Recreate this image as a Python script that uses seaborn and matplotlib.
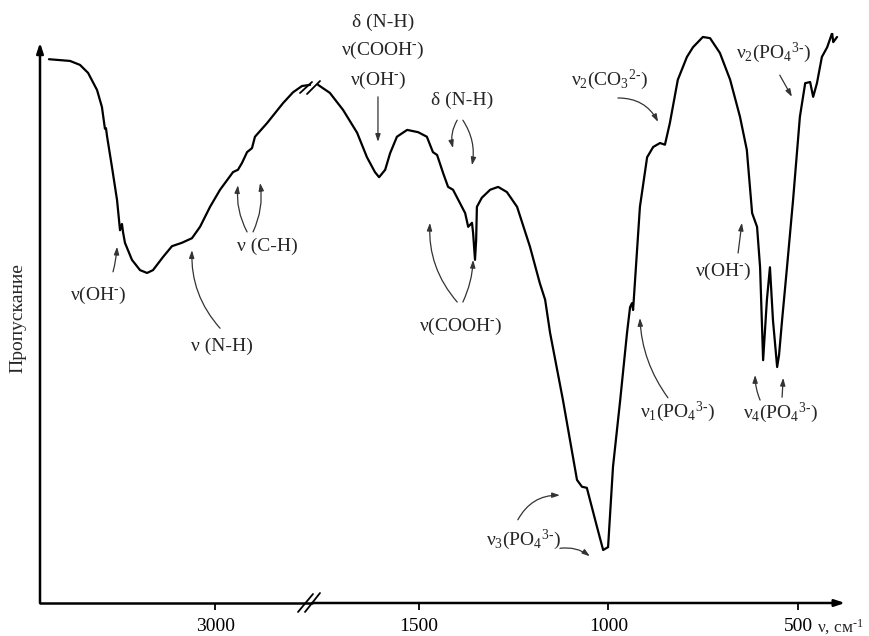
import matplotlib
matplotlib.use('Agg')
import matplotlib.pyplot as plt
import seaborn as sns
from matplotlib.lines import Line2D

# ИК-спектр: левая часть (высокие частоты) и правая часть после разрыва оси
wn_left = [3949, 3829, 3772, 3726, 3675, 3647, 3630, 3624, 3618, 3590, 3561, 3544,
           3533, 3527, 3516, 3476, 3430, 3390, 3356, 3299, 3248, 3191, 3134, 3088,
           3031, 2974, 2900, 2872, 2849, 2820, 2792, 2775, 2706, 2615, 2558, 2507, 2461]
t_left = [95.4, 95.1, 94.4, 93.0, 90.0, 87.0, 83.2, 83.3, 81.9, 76.5, 70.7, 65.4,
          66.5, 65.1, 63.2, 60.2, 58.4, 57.9, 58.4, 60.7, 62.6, 63.2, 64.0, 66.0,
          69.5, 72.5, 75.6, 76.0, 77.2, 79.1, 79.8, 81.8, 84.2, 87.7, 89.6, 90.7, 90.9]

wn_right = [1766, 1735, 1700, 1663, 1637, 1616, 1605, 1589, 1576, 1558, 1531, 1502,
            1479, 1463, 1452, 1436, 1423, 1410, 1392, 1378, 1370, 1360, 1357, 1352,
            1349, 1347, 1334, 1312, 1291, 1268, 1241, 1207, 1181, 1167, 1154, 1120,
            1083, 1070, 1057, 1030, 1014, 1001, 988, 969, 951, 943, 938, 935, 917,
            898, 882, 864, 851, 838, 817, 793, 777, 751, 732, 706, 679, 653, 635,
            621, 608, 600, 592, 587, 582, 574, 566, 555, 550, 542, 529, 513, 495,
            481, 468, 460, 450, 437, 423, 410, 407, 397]
t_right = [90.9, 89.5, 86.5, 82.5, 78.2, 75.6, 74.7, 76.0, 78.9, 81.8, 83.0, 82.6,
           81.8, 79.1, 78.6, 75.4, 73.0, 72.5, 70.2, 68.4, 66.0, 66.7, 64.9, 60.2,
           63.7, 69.5, 71.1, 72.5, 73.0, 72.1, 69.5, 62.5, 56.1, 53.2, 47.4, 35.6,
           21.6, 20.4, 20.2, 13.3, 9.3, 9.8, 23.9, 35.6, 47.4, 51.9, 52.6, 51.4, 69.5,
           78.2, 80.0, 80.7, 80.4, 84.2, 91.8, 95.8, 97.5, 99.3, 99.1, 96.5, 91.8, 85.3,
           79.5, 68.4, 66.0, 58.9, 42.6, 47.9, 53.2, 58.9, 49.6, 41.4, 43.5, 49.6, 58.9,
           70.7, 85.3, 91.2, 91.4, 88.8, 91.2, 95.8, 97.5, 100.0, 98.4, 99.3]

ticks_left = [3000]
ticks_right = [1500, 1000, 500]

sns.set_style('white')
plt.rcParams['font.family'] = ['Liberation Serif', 'DejaVu Serif']
plt.rcParams['mathtext.fontset'] = 'custom'
plt.rcParams['mathtext.rm'] = 'Liberation Serif'
plt.rcParams['mathtext.it'] = 'Liberation Serif:italic'

W, H = 870, 636


def fpx(x, y):
    return x / W, 1 - y / H


fig = plt.figure(figsize=(8.7, 6.36), dpi=100)
ax_l = fig.add_axes([40 / W, 33 / H, 272 / W, 570 / H])
ax_r = fig.add_axes([312 / W, 33 / H, 533 / W, 570 / H])

sns.lineplot(x=wn_left, y=t_left, ax=ax_l, color='black', lw=1.6, sort=False, estimator=None)
sns.lineplot(x=wn_right, y=t_right, ax=ax_r, color='black', lw=1.6, sort=False, estimator=None)

ax_l.set_xlim(4000, 2450)
ax_r.set_xlim(1782, 376)
for ax in (ax_l, ax_r):
    ax.set_ylim(0, 100)
    ax.set_yticks([])
    ax.patch.set_alpha(0)
    for s in ax.spines.values():
        s.set_visible(False)
    ax.tick_params(axis='x', direction='out', length=5, width=1.3, labelsize=14,
                   pad=6, bottom=True, colors='black')
ax_l.set_xticks(ticks_left)
ax_r.set_xticks(ticks_right)
ax_l.set_xlabel('')
ax_r.set_xlabel('')
ax_l.set_ylabel('Пропускание', fontsize=14, labelpad=10)

# оси со стрелками
axis_arrow = dict(arrowstyle='-|>,head_length=0.6,head_width=0.2', color='black', lw=1.8,
                  shrinkA=0, shrinkB=0)
ax_l.annotate('', xy=(0, 0.983), xytext=(0, 0), xycoords='axes fraction', arrowprops=axis_arrow)
ax_l.plot([0, 1], [0, 0], transform=ax_l.transAxes, color='black', lw=1.8, clip_on=False)
ax_r.annotate('', xy=(1.0, 0), xytext=(0, 0), xycoords='axes fraction', arrowprops=axis_arrow)

fig.text(817 / W, 1 - 627 / H, 'ν, см$^{\\text{-1}}$', fontsize=12.5, ha='left', va='center')

# знаки разрыва
for (x0, y0, x1, y1) in [(298, 612, 313, 594), (305, 612, 320, 593),
                         (300, 93, 312, 82), (307, 94, 320, 81)]:
    a, b = fpx(x0, y0)
    c, d = fpx(x1, y1)
    fig.add_artist(Line2D([a, c], [b, d], color='black', lw=1.3, transform=fig.transFigure))


def label(ax, text, xy):
    ax.text(xy[0], xy[1], text, fontsize=14, ha='center', va='center', clip_on=False)


def arrow(ax, start, end, rad=0.0):
    ax.annotate('', xy=end, xytext=start, annotation_clip=False,
                arrowprops=dict(arrowstyle='-|>,head_length=0.45,head_width=0.15',
                                color='#333333', lw=0.9, shrinkA=0, shrinkB=0,
                                connectionstyle=f'arc3,rad={rad}'))


MINUS = '$^{\\text{-}}$'
PO4 = '(PO$_4$$^{\\text{3-}}$)'

# подписи полос, левая часть
label(ax_l, 'ν(OH' + MINUS + ')', (3669, 54.0))
arrow(ax_l, (3584, 58.1), (3561, 62.5), 0.05)
label(ax_l, 'ν (N-H)', (2963, 45.1))
arrow(ax_l, (2974, 48.2), (3134, 61.9), -0.2)
label(ax_l, 'ν (C-H)', (2706, 62.6))
arrow(ax_l, (2820, 65.1), (2872, 73.3), -0.15)
arrow(ax_l, (2786, 65.1), (2746, 73.7), 0.15)

# правая часть
label(ax_r, 'δ (N-H)', (1595, 101.9))
label(ax_r, 'ν(COOH' + MINUS + ')', (1595, 97.0))
label(ax_r, 'ν(OH' + MINUS + ')', (1608, 91.6))
arrow(ax_r, (1608, 88.8), (1608, 80.9))
label(ax_r, 'δ (N-H)', (1386, 88.2))
arrow(ax_r, (1399, 84.7), (1410, 79.8), 0.2)
arrow(ax_r, (1384, 84.7), (1360, 76.8), -0.2)
label(ax_r, 'ν(COOH' + MINUS + ')', (1389, 48.6))
arrow(ax_r, (1399, 52.8), (1471, 66.7), -0.2)
arrow(ax_r, (1384, 52.8), (1357, 60.2), 0.1)
label(ax_r, 'ν$_2$(CO$_3$$^{\\text{2-}}$)', (996, 91.8))
arrow(ax_r, (975, 88.6), (869, 84.4), -0.3)
label(ax_r, 'ν$_3$' + PO4, (1225, 11.1))
arrow(ax_r, (1239, 14.6), (1128, 18.9), -0.3)
arrow(ax_r, (1128, 9.6), (1049, 8.2), -0.2)
label(ax_r, 'ν$_1$' + PO4, (819, 33.5))
arrow(ax_r, (843, 36.0), (917, 50.0), -0.15)
label(ax_r, 'ν(OH' + MINUS + ')', (698, 58.1))
arrow(ax_r, (658, 61.4), (648, 66.7))
label(ax_r, 'ν$_4$' + PO4, (547, 33.3))
arrow(ax_r, (600, 35.6), (613, 40.0), -0.1)
arrow(ax_r, (542, 36.1), (539, 39.5))
label(ax_r, 'ν$_2$' + PO4, (564, 96.5))
arrow(ax_r, (548, 92.6), (516, 88.8))

fig.savefig('out.png', dpi=100)
